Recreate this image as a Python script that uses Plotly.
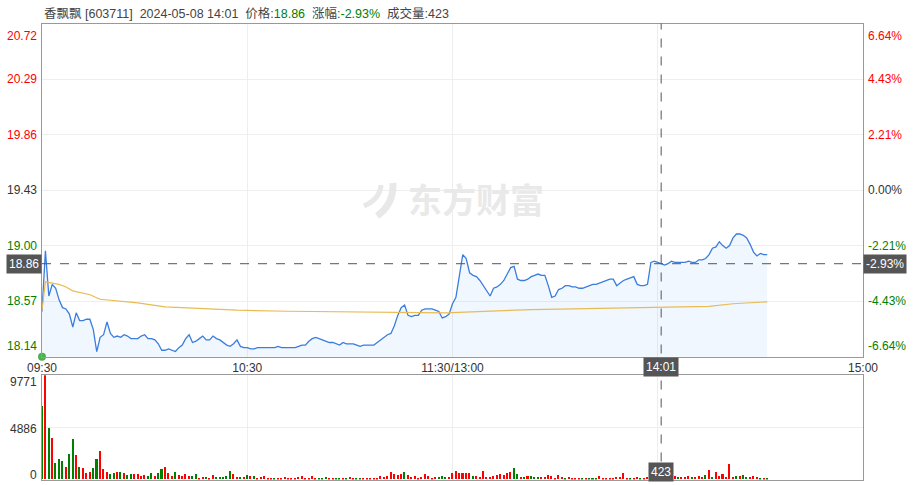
import plotly.graph_objects as go

stock_name = "香飘飘"
stock_code = "603711"
trade_date = "2024-05-08"
prev_close = 19.43

x_tick_vals = [0, 60, 120, 180, 240]
x_tick_text = ["09:30", "10:30", "11:30/13:00", "", "15:00"]

# minute prices, 09:30 .. 14:32
price = [
    18.49, 18.96, 18.61, 18.70, 18.67, 18.58, 18.52, 18.51, 18.47, 18.37,
    18.48, 18.42, 18.42, 18.43, 18.43, 18.35, 18.18, 18.29, 18.31, 18.41,
    18.32, 18.29, 18.30, 18.29, 18.31, 18.30, 18.28, 18.28, 18.28, 18.30,
    18.31, 18.28, 18.28, 18.27, 18.24, 18.19, 18.19, 18.20, 18.19, 18.18,
    18.21, 18.23, 18.28, 18.31, 18.25, 18.26, 18.28, 18.30, 18.27, 18.27,
    18.30, 18.28, 18.27, 18.25, 18.23, 18.22, 18.24, 18.27, 18.22, 18.21,
    18.21, 18.20, 18.20, 18.21, 18.21, 18.21, 18.21, 18.21, 18.21, 18.22,
    18.21, 18.21, 18.21, 18.21, 18.21, 18.22, 18.23, 18.23, 18.26, 18.28,
    18.29, 18.28, 18.27, 18.26, 18.25, 18.25, 18.24, 18.23, 18.25, 18.24,
    18.24, 18.24, 18.23, 18.22, 18.23, 18.23, 18.23, 18.23, 18.25, 18.27,
    18.29, 18.31, 18.32, 18.38, 18.46, 18.52, 18.54, 18.46, 18.45, 18.46,
    18.46, 18.50, 18.51, 18.51, 18.51, 18.50, 18.49, 18.44, 18.45, 18.47,
    18.55, 18.60, 18.77, 18.93, 18.90, 18.79, 18.77, 18.76, 18.73, 18.69,
    18.64, 18.61, 18.67, 18.68, 18.70, 18.73, 18.78, 18.83, 18.84, 18.74,
    18.73, 18.73, 18.74, 18.76, 18.77, 18.78, 18.77, 18.77, 18.69, 18.60,
    18.61, 18.66, 18.67, 18.69, 18.69, 18.68, 18.68, 18.67, 18.67, 18.68,
    18.69, 18.70, 18.70, 18.71, 18.72, 18.73, 18.74, 18.74, 18.69, 18.71,
    18.73, 18.74, 18.75, 18.76, 18.70, 18.69, 18.69, 18.70, 18.87, 18.88,
    18.87, 18.86, 18.85, 18.86, 18.88, 18.87, 18.87, 18.87, 18.87, 18.88,
    18.87, 18.87, 18.89, 18.89, 18.90, 18.93, 18.98, 18.99, 19.03, 19.00,
    18.98, 19.00, 19.06, 19.09, 19.09, 19.08, 19.06, 19.01, 18.95, 18.92,
    18.94, 18.93, 18.93,
]

# average price line, read at a few minutes
avg_idx = [0, 1, 5, 7, 9, 14, 17, 22, 28, 36, 47, 57, 72, 100, 118, 143, 178, 195, 202, 212]
avg_price = [18.50, 18.72, 18.70, 18.68, 18.65, 18.62, 18.585, 18.57, 18.557, 18.526,
             18.51, 18.50, 18.492, 18.484, 18.48, 18.505, 18.523, 18.53, 18.55, 18.565]

volume = [
    6860, 9771, 4820, 3910, 1565, 1910, 1720, 1160, 2380, 3790,
    2285, 1160, 1065, 625, 690, 1030, 1910, 2600, 940, 690,
    470, 565, 690, 655, 595, 440, 470, 470, 470, 315,
    440, 280, 625, 315, 565, 940, 1160, 595, 315, 655,
    440, 345, 500, 345, 280, 470, 155, 250, 220, 125,
    405, 190, 220, 220, 315, 815, 470, 250, 220, 250,
    405, 280, 280, 125, 190, 315, 125, 95, 155, 125,
    95, 220, 95, 95, 125, 190, 280, 125, 125, 315,
    125, 95, 125, 190, 60, 125, 125, 125, 125, 125,
    190, 60, 125, 125, 125, 155, 125, 125, 125, 280,
    220, 280, 690, 500, 405, 530, 720, 405, 190, 315,
    95, 190, 500, 280, 125, 190, 220, 345, 190, 190,
    625, 780, 625, 625, 595, 565, 280, 345, 190, 780,
    220, 190, 315, 405, 470, 440, 565, 690, 1065, 530,
    250, 190, 315, 280, 250, 220, 190, 250, 375, 315,
    125, 405, 190, 95, 190, 125, 125, 155, 125, 155,
    155, 155, 125, 280, 60, 125, 125, 155, 190, 190,
    595, 125, 125, 155, 190, 125, 125, 190, 190, 250,
    220, 423, 280, 250, 375, 280, 250, 190, 250, 315,
    190, 220, 280, 190, 375, 845, 250, 690, 315, 500,
    220, 1440, 250, 315, 315, 405, 190, 190, 315, 220,
    125, 155, 155,
]
# r = up minute, g = down minute
vol_dir = (
    "grgrgggrgg" "rgrrrggrrr" "ggrgrggrrr" "rggrggrrrg"
    "rrrrggrrgr" "rggggg" "rrgrgrgrrrrrgr"
    "rrrrrrrrrr" "rgggrrggrg" "rrggrrrrrr" "rrrrrrgrrr"
    "rrrrrrgggr" "rrrrrrgrrr" "rrrrrrrrgg" "rgrgggrrrr"
    "rrrgrrrrgr" "gggrrrrrrr" "rrgrrgrrrr" "rggrrrgrrr"
    "grrrgrgrrr" "rrrgrggrrr" "gr" "gggggrrr"
)

price_ticks = [20.72, 20.29, 19.86, 19.43, 19.00, 18.57, 18.14]
pct_ticks = ["6.64%", "4.43%", "2.21%", "0.00%", "-2.21%", "-4.43%", "-6.64%"]
vol_ticks = [9771, 4886, 0]

cursor_idx = 181
cursor_time = "14:01"

UP, DOWN, FLAT = "#ff0000", "#008000", "#333333"
FONT = "Arial, 'Noto Sans CJK SC', sans-serif"
W, H = 913, 485


def px(x):
    return x / W


def py(y):
    return 1 - y / H


minutes = list(range(len(price)))
x0, x1 = px(42), px(863)
main_dom = [py(356.7), py(23.5)]
vol_dom = [py(479.5), py(375.3)]

vol_colors = [UP if d == "r" else DOWN for d in vol_dir[:len(volume)]]

fig = go.Figure()
fig.add_trace(go.Scatter(
    x=minutes, y=price, mode="lines", fill="tozeroy",
    line=dict(color="#3b7ddd", width=1.3),
    fillcolor="rgba(40,140,240,0.07)",
    xaxis="x", yaxis="y", hoverinfo="skip",
))
fig.add_trace(go.Scatter(
    x=avg_idx, y=avg_price, mode="lines",
    line=dict(color="#e8bb55", width=1.2),
    xaxis="x", yaxis="y", hoverinfo="skip",
))
fig.add_trace(go.Scatter(
    x=[minutes[0]], y=[price_ticks[-1]], mode="markers",
    marker=dict(color="#4cb050", size=8), cliponaxis=False,
    xaxis="x", yaxis="y", hoverinfo="skip",
))
fig.add_trace(go.Bar(
    x=minutes, y=volume, width=0.45,
    marker=dict(color=vol_colors, line=dict(width=0)),
    xaxis="x2", yaxis="y2", hoverinfo="skip",
))

axis_common = dict(showline=True, mirror=True, linecolor="#999999", linewidth=1,
                   gridcolor="#eeeeee", zeroline=False, ticks="", automargin=False)

cur_price = price[cursor_idx]
cur_pct = (cur_price / prev_close - 1) * 100


def tick_color(v):
    if v > prev_close:
        return UP
    if v < prev_close:
        return DOWN
    return FLAT


annotations = []
for i, (p, pct) in enumerate(zip(price_ticks, pct_ticks)):
    shift = -12 if i == 0 else (11 if i == len(price_ticks) - 1 else 0)
    c = tick_color(p)
    annotations.append(dict(x=px(39), xref="paper", xanchor="right", y=p, yref="y",
                            yanchor="middle", yshift=shift, text=f"{p:.2f}", showarrow=False,
                            font=dict(size=12, color=c)))
    annotations.append(dict(x=px(866), xref="paper", xanchor="left", y=p, yref="y",
                            yanchor="middle", yshift=shift, text=pct, showarrow=False,
                            font=dict(size=12, color=c)))
for i, v in enumerate(vol_ticks):
    shift = [-7, -2, 5][i]
    annotations.append(dict(x=px(39), xref="paper", xanchor="right", y=v, yref="y2",
                            yanchor="middle", yshift=shift, text=str(v), showarrow=False,
                            font=dict(size=12, color="#333333")))

sp = "\u00a0"
header = (f"{stock_name} [{stock_code}]{sp*2}{trade_date} {cursor_time}{sp*2}"
          f"价格:<span style='color:{DOWN}'>{cur_price:.2f}</span>{sp*2}"
          f"涨幅:<span style='color:{DOWN}'>{cur_pct:.2f}%</span>{sp*2}"
          f"成交量:{volume[cursor_idx]}")
annotations.append(dict(x=px(42), xref="paper", xanchor="left", y=py(13), yref="paper",
                        yanchor="middle", text=header, showarrow=False,
                        font=dict(size=12.5, color="#444444")))

box = dict(showarrow=False, bgcolor="#555555", borderpad=2, yanchor="middle",
           font=dict(size=12, color="white"))
annotations.append(dict(x=px(42), xref="paper", xanchor="right", y=cur_price, yref="y",
                        text=f"{cur_price:.2f}", **box))
annotations.append(dict(x=px(863), xref="paper", xanchor="left", y=cur_price, yref="y",
                        text=f"{cur_pct:.2f}%", **box))
annotations.append(dict(x=cursor_idx, xref="x", xanchor="center", y=py(366.5), yref="paper",
                        text=cursor_time, **box))
annotations.append(dict(x=cursor_idx, xref="x", xanchor="center", y=py(472), yref="paper",
                        text=str(volume[cursor_idx]), **box))

# watermark text + logo strokes
annotations.append(dict(x=px(476), xref="paper", xanchor="center", y=py(201), yref="paper",
                        yanchor="middle", text="<b>东方财富</b>", showarrow=False,
                        font=dict(size=34, color="#e9e9e9")))


def logo_path(pts):
    (ax, ay), (bx, by), (cx, cy) = pts
    return f"M {px(ax)},{py(ay)} Q {px(bx)},{py(by)} {px(cx)},{py(cy)}"


shapes = [
    dict(type="path", xref="paper", yref="paper",
         path=logo_path([(377, 216), (394, 204), (393, 183)]),
         line=dict(color="#e8e8e8", width=7)),
    dict(type="path", xref="paper", yref="paper",
         path=logo_path([(364, 206), (380, 199), (381, 185)]),
         line=dict(color="#e8e8e8", width=5)),
    dict(type="line", xref="x", yref="paper", x0=cursor_idx, x1=cursor_idx,
         y0=vol_dom[0], y1=main_dom[1], line=dict(color="#555555", width=1, dash="dash")),
    dict(type="line", xref="paper", yref="y", x0=x0, x1=x1, y0=cur_price, y1=cur_price,
         line=dict(color="#555555", width=1, dash="dash")),
]

fig.update_layout(
    width=W, height=H,
    margin=dict(l=0, r=0, t=0, b=0, pad=0),
    paper_bgcolor="white", plot_bgcolor="white",
    showlegend=False, bargap=0,
    font=dict(family=FONT, size=12, color="#333333"),
    xaxis=dict(domain=[x0, x1], anchor="y", range=[0, 240],
               tickvals=x_tick_vals, ticktext=x_tick_text,
               tickfont=dict(size=12, color="#333333"), **axis_common),
    yaxis=dict(domain=main_dom, anchor="x", range=[price_ticks[-1], price_ticks[0]],
               tickvals=price_ticks[1:-1], showticklabels=False, **axis_common),
    xaxis2=dict(domain=[x0, x1], anchor="y2", matches="x",
                tickvals=x_tick_vals, showticklabels=False, **axis_common),
    yaxis2=dict(domain=vol_dom, anchor="x2", range=[0, vol_ticks[0]],
                tickvals=[vol_ticks[1]], showticklabels=False, **axis_common),
    annotations=annotations,
    shapes=shapes,
)

# drop the default 8px page margin so the figure fills the window
fig.write_html("out.html", config={"displayModeBar": False},
               post_script="document.body.style.margin = '0';")
